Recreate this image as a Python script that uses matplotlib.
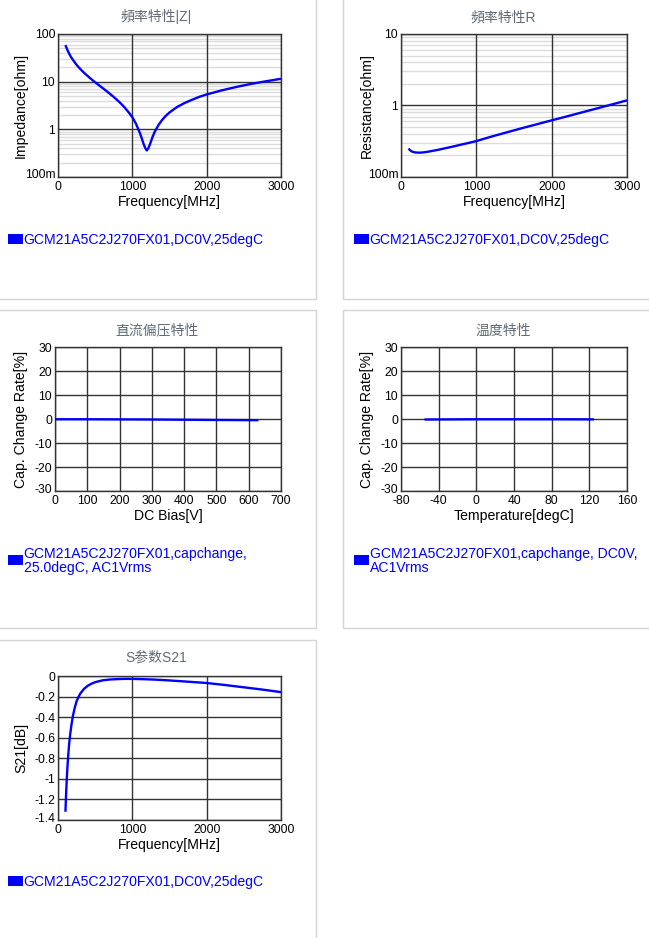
import matplotlib
matplotlib.use('Agg')
import matplotlib.pyplot as plt
from matplotlib.patches import Rectangle
from matplotlib.transforms import ScaledTranslation

plt.rcParams['font.family'] = ['Liberation Sans', 'Noto Sans CJK SC', 'DejaVu Sans']
plt.rcParams['axes.unicode_minus'] = False

W, H = 649, 938
BLUE = '#0000ff'

freq_z = [100, 125, 150, 175, 200, 250, 300, 350, 400, 450, 500, 550, 600, 650, 700, 750, 800, 850, 900, 950,
          1000, 1050, 1100, 1125, 1150, 1175, 1195, 1215, 1240, 1270, 1300, 1350, 1400, 1450, 1500, 1600,
          1700, 1800, 1900, 2000, 2200, 2400, 2600, 2800, 3000]
impedance = [58.5, 46.7, 38.7, 33, 28.7, 22.5, 18.4, 15.4, 13.1, 11.2, 9.7, 8.45, 7.35, 6.4, 5.53, 4.76, 4.07,
             3.43, 2.83, 2.28, 1.8, 1.3, 0.85, 0.66, 0.5, 0.4, 0.36, 0.4, 0.5, 0.68, 0.88, 1.22, 1.57, 1.92,
             2.26, 2.93, 3.55, 4.15, 4.8, 5.4, 6.55, 7.75, 9.0, 10.2, 11.5]

freq_r = [100, 115, 130, 150, 175, 200, 250, 300, 350, 400, 500, 600, 700, 800, 900, 1000, 1100, 1200, 1300,
          1400, 1500, 1600, 1700, 1800, 1900, 2000, 2100, 2200, 2300, 2400, 2500, 2600, 2700, 2800, 2900, 3000]
resistance = [0.25, 0.24, 0.232, 0.226, 0.222, 0.22, 0.219, 0.221, 0.225, 0.23, 0.241, 0.254, 0.268, 0.284,
              0.30, 0.318, 0.342, 0.367, 0.393, 0.42, 0.449, 0.48, 0.512, 0.545, 0.582, 0.62, 0.66, 0.703,
              0.75, 0.80, 0.853, 0.91, 0.97, 1.035, 1.105, 1.18]

dc_bias = [0, 100, 200, 300, 400, 500, 630]
dc_change = [0.0, 0.0, -0.05, -0.1, -0.2, -0.3, -0.4]

temp = [-55, -25, 0, 25, 55, 85, 125]
temp_change = [-0.1, -0.05, 0.0, 0.0, 0.0, 0.0, -0.05]

freq_s = [100, 110, 120, 130, 140, 150, 165, 180, 200, 225, 250, 275, 300, 350, 400, 450, 500, 600, 700, 800,
          900, 1000, 1150, 1300, 1450, 1600, 1800, 2000, 2250, 2500, 2750, 3000]
s21 = [-1.32, -1.13, -0.97, -0.85, -0.75, -0.66, -0.56, -0.48, -0.39, -0.31, -0.245, -0.205, -0.17, -0.125,
       -0.095, -0.075, -0.06, -0.042, -0.034, -0.03, -0.028, -0.028, -0.031, -0.035, -0.041, -0.048, -0.058,
       -0.068, -0.088, -0.11, -0.132, -0.157]

freq_ticks = [0, 1000, 2000, 3000]
change_ticks = [-30, -20, -10, 0, 10, 20, 30]
dc_ticks = [0, 100, 200, 300, 400, 500, 600, 700]
temp_ticks = [-80, -40, 0, 40, 80, 120, 160]
s21_ticks = [-1.4, -1.2, -1, -0.8, -0.6, -0.4, -0.2, 0]
s21_labels = ['-1.4', '-1.2', '-1', '-0.8', '-0.6', '-0.4', '-0.2', '0']
minor_mult = [2, 3, 4, 5, 6, 7, 8, 9]

fig = plt.figure(figsize=(W / 100, H / 100), dpi=100, facecolor='white')


def panel(x0, y0, x1, y1):
    # light page boxes around each chart
    fig.add_artist(Rectangle((x0 / W, 1 - y1 / H), (x1 - x0) / W, (y1 - y0) / H, transform=fig.transFigure,
                             fill=False, ec='#d4d4d4', lw=1))


def chart(left, right, top, bottom, x, y, xlabel, ylabel, xticks, yticks, ylabels=None, log=False, label_x=21):
    ax = fig.add_axes([left / W, 1 - bottom / H, (right - left) / W, (bottom - top) / H])
    if log:
        ax.set_yscale('log')
        for d in yticks[:-1]:
            for m in minor_mult:
                ax.axhline(d * m, color='#dcdcdc', lw=1, zorder=1)
    ax.grid(True, color='#333333', lw=1)
    ax.set_axisbelow('line')
    ax.plot(x, y, color=BLUE, lw=1.7, zorder=3, clip_on=False, solid_capstyle='butt')
    ax.set_xlim(xticks[0], xticks[-1])
    ax.set_ylim(yticks[0], yticks[-1])
    ax.set_xticks(xticks)
    ax.set_yticks(yticks)
    if ylabels:
        ax.set_yticklabels(ylabels)
    ax.minorticks_off()
    ax.tick_params(length=0, labelsize=8.7)
    ax.tick_params(axis='y', pad=2)
    ax.tick_params(axis='x', pad=3)
    # the lowest y label sits a little above its line, as on the page
    low = ax.get_yticklabels()[0]
    low.set_transform(low.get_transform() + ScaledTranslation(0, 3 / 100, fig.dpi_scale_trans))
    for s in ax.spines.values():
        s.set_color('#333333')
        s.set_linewidth(1)
    ax.set_xlabel(xlabel, fontsize=10.1, va='center')
    ax.set_ylabel(ylabel, fontsize=10.1, va='center')
    ax.xaxis.set_label_coords(0.5, -25 / (bottom - top))
    ax.yaxis.set_label_coords((label_x - left) / (right - left), 0.5)
    return ax


def heading(cx_px, y_px, text):
    fig.text(cx_px / W, 1 - y_px / H, text, fontsize=10, color='#5f6b76', ha='center', va='center')


def legend(x_px, y_px, lines):
    fig.add_artist(Rectangle(((x_px - 16) / W, 1 - (y_px + 5) / H), 15 / W, 10 / H, transform=fig.transFigure,
                             fc=BLUE, ec='none'))
    fig.text((x_px - 0.5) / W, 1 - (y_px + 0.6) / H, lines, fontsize=10.08, color=BLUE, ha='left', va='center',
             linespacing=1.0)


panel(-2, -2, 316, 299)
panel(343, -2, 652, 299)
panel(-2, 310, 316, 628)
panel(343, 310, 652, 628)
panel(-2, 640, 316, 941)

chart(58, 281, 34, 177, freq_z, impedance, 'Frequency[MHz]', 'Impedance[ohm]', freq_ticks,
      [0.1, 1, 10, 100], ['100m', '1', '10', '100'], log=True)
heading(156, 17, '頻率特性|Z|')
legend(24, 239, 'GCM21A5C2J270FX01,DC0V,25degC')

chart(401, 627, 34, 177, freq_r, resistance, 'Frequency[MHz]', 'Resistance[ohm]', freq_ticks,
      [0.1, 1, 10], ['100m', '1', '10'], log=True, label_x=367)
heading(503, 17, '頻率特性R')
legend(370, 239, 'GCM21A5C2J270FX01,DC0V,25degC')

chart(55, 281, 347.5, 491, dc_bias, dc_change, 'DC Bias[V]', 'Cap. Change Rate[%]', dc_ticks, change_ticks)
heading(157, 330, '直流偏压特性')
legend(24, 560, 'GCM21A5C2J270FX01,capchange,\n25.0degC, AC1Vrms')

chart(401, 627, 347.5, 491, temp, temp_change, 'Temperature[degC]', 'Cap. Change Rate[%]', temp_ticks, change_ticks,
      label_x=367)
heading(503, 330.5, '温度特性')
legend(370, 560, 'GCM21A5C2J270FX01,capchange, DC0V,\nAC1Vrms')

chart(58, 281, 676, 820, freq_s, s21, 'Frequency[MHz]', 'S21[dB]', freq_ticks, s21_ticks, s21_labels)
heading(156, 658, 'S参数S21')
legend(24, 881, 'GCM21A5C2J270FX01,DC0V,25degC')

fig.savefig('out.png', dpi=100)
